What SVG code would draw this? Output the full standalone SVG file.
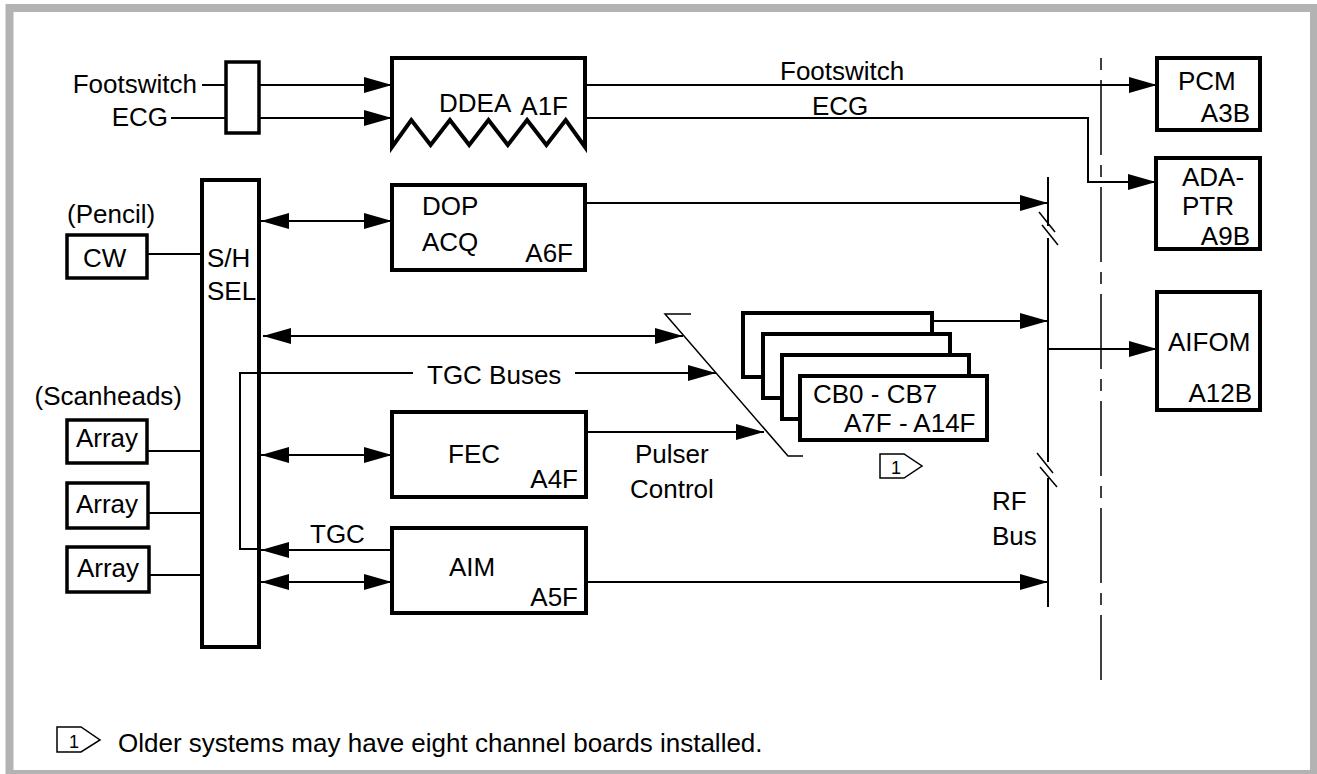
<svg xmlns="http://www.w3.org/2000/svg" width="1317" height="774" viewBox="0 0 1317 774">
<style>
text{font-family:"Liberation Sans",Arial,sans-serif;font-size:26px;fill:#000}
.box{fill:#fff;stroke:#000;stroke-width:4}
.sbox{fill:#fff;stroke:#000;stroke-width:3.5}
.ln{fill:none;stroke:#000;stroke-width:2}
.thin{fill:none;stroke:#000;stroke-width:1.5}
.end{text-anchor:end}
.mid{text-anchor:middle}
.note{font-size:18px}
</style>
<defs>
<marker id="ah" markerUnits="userSpaceOnUse" markerWidth="28" markerHeight="18" refX="28" refY="9" orient="auto-start-reverse">
<path d="M0,1 L28,9 L0,17 Z" fill="#000"/>
</marker>
</defs>
<rect x="9.5" y="8" width="1304.5" height="766" fill="#fff" stroke="#b3b3b3" stroke-width="8"/>

<g id="connectors">
<line class="ln" x1="202" y1="85" x2="226" y2="85"/>
<line class="ln" x1="171" y1="118" x2="226" y2="118"/>
<line class="ln" x1="259" y1="85" x2="392" y2="85" marker-end="url(#ah)"/>
<line class="ln" x1="259" y1="118" x2="392" y2="118" marker-end="url(#ah)"/>
<line class="ln" x1="585" y1="85" x2="1157" y2="85" marker-end="url(#ah)"/>
<polyline class="ln" points="585,118 1088,118 1088,182 1156,182" marker-end="url(#ah)"/>
<line class="ln" x1="261" y1="221" x2="392" y2="221" marker-start="url(#ah)" marker-end="url(#ah)"/>
<line class="ln" x1="585" y1="203" x2="1048" y2="203" marker-end="url(#ah)"/>
<line class="ln" x1="263" y1="336" x2="683" y2="336" marker-start="url(#ah)" marker-end="url(#ah)"/>
<polyline class="ln" points="259,549 240,549 240,373 413,373"/>
<line class="ln" x1="575" y1="373" x2="716" y2="373" marker-end="url(#ah)"/>
<line class="ln" x1="261" y1="455" x2="392" y2="455" marker-start="url(#ah)" marker-end="url(#ah)"/>
<line class="ln" x1="586" y1="432" x2="764" y2="432" marker-end="url(#ah)"/>
<line class="ln" x1="392" y1="550" x2="261" y2="550" marker-end="url(#ah)"/>
<line class="ln" x1="261" y1="582" x2="392" y2="582" marker-start="url(#ah)" marker-end="url(#ah)"/>
<line class="ln" x1="586" y1="582" x2="1048" y2="582" marker-end="url(#ah)"/>
<line class="ln" x1="932" y1="321" x2="1048" y2="321" marker-end="url(#ah)"/>
<line class="ln" x1="1048" y1="349" x2="1157" y2="349" marker-end="url(#ah)"/>
<line class="ln" x1="147" y1="254" x2="202" y2="254"/>
<line class="ln" x1="147" y1="451" x2="202" y2="451"/>
<line class="ln" x1="147" y1="513" x2="202" y2="513"/>
<line class="ln" x1="147" y1="575" x2="202" y2="575"/>
<line class="ln" x1="1048" y1="177" x2="1048" y2="226"/>
<line class="ln" x1="1048" y1="238" x2="1048" y2="462"/>
<line class="ln" x1="1048" y1="478" x2="1048" y2="607"/>
<line class="thin" x1="1039" y1="212" x2="1055" y2="232"/>
<line class="thin" x1="1042" y1="225" x2="1058" y2="245"/>
<line class="thin" x1="1037" y1="453" x2="1053" y2="473"/>
<line class="thin" x1="1040" y1="467" x2="1057" y2="487"/>
<polyline class="thin" points="691,314 665,314 788,456 803,456"/>
<line x1="1101" y1="58" x2="1101" y2="680" stroke="#000" stroke-width="1.5" stroke-dasharray="12 10 75 10"/>
</g>

<g id="fs-box"><rect class="sbox" x="226" y="62" width="33" height="71"/></g>
<g id="in-labels">
<text class="end" x="197" y="93">Footswitch</text>
<text class="end" x="168" y="126">ECG</text>
</g>
<g id="ddea">
<path class="box" d="M392,58 H585 V147 L565.7,120 L546.4,145 L527.1,120 L507.8,145 L488.5,120 L469.2,145 L449.9,120 L430.6,145 L411.3,120 L392,147 Z"/>
<text x="439" y="112">DDEA</text>
<text class="end" x="568" y="115">A1F</text>
</g>
<g id="out-labels">
<text x="780" y="80">Footswitch</text>
<text x="812" y="115">ECG</text>
</g>
<g id="pcm">
<rect class="box" x="1157" y="58" width="103" height="72"/>
<text x="1178" y="90">PCM</text>
<text class="end" x="1250" y="122">A3B</text>
</g>
<g id="adaptr">
<rect class="box" x="1156" y="158" width="104" height="91"/>
<text x="1182" y="186">ADA-</text>
<text x="1182" y="215">PTR</text>
<text class="end" x="1250" y="245">A9B</text>
</g>
<g id="aifom">
<rect class="box" x="1157" y="292" width="103" height="118"/>
<text x="1168" y="351">AIFOM</text>
<text class="end" x="1252" y="402">A12B</text>
</g>
<g id="shsel">
<rect x="202" y="180" width="57" height="467" fill="none" stroke="#000" stroke-width="4"/>
<text x="207" y="267">S/H</text>
<text x="207" y="300">SEL</text>
</g>
<g id="cw">
<text x="67" y="223">(Pencil)</text>
<rect class="sbox" x="67" y="235" width="80" height="43"/>
<text x="83" y="267">CW</text>
</g>
<g id="scanheads">
<text class="end" x="182" y="405">(Scanheads)</text>
</g>
<g id="array1">
<rect class="sbox" x="67" y="420" width="80" height="43"/>
<text class="mid" x="107" y="447">Array</text>
</g>
<g id="array2">
<rect class="sbox" x="67" y="483" width="81" height="45"/>
<text class="mid" x="107" y="513">Array</text>
</g>
<g id="array3">
<rect class="sbox" x="67" y="547" width="82" height="45"/>
<text class="mid" x="108" y="577">Array</text>
</g>
<g id="dop">
<rect class="box" x="392" y="185" width="193" height="85"/>
<text x="422" y="215">DOP</text>
<text x="422" y="251">ACQ</text>
<text class="end" x="573" y="262">A6F</text>
</g>
<g id="fec">
<rect class="box" x="392" y="412" width="194" height="85"/>
<text x="448" y="463">FEC</text>
<text class="end" x="578" y="488">A4F</text>
</g>
<g id="aim">
<rect class="box" x="392" y="528" width="194" height="85"/>
<text x="449" y="576">AIM</text>
<text class="end" x="578" y="606">A5F</text>
</g>
<g id="bus-labels">
<text x="427" y="384">TGC Buses</text>
<text x="310" y="543">TGC</text>
<text x="635" y="463">Pulser</text>
<text x="630" y="498">Control</text>
<text x="992" y="510">RF</text>
<text x="992" y="545">Bus</text>
</g>
<g id="cb">
<rect class="box" x="743" y="313" width="189" height="64"/>
<rect class="box" x="763" y="334" width="187" height="64"/>
<rect class="box" x="782" y="355" width="187" height="64"/>
<rect class="box" x="800" y="376" width="187" height="64"/>
<text x="813" y="403">CB0 - CB7</text>
<text x="844" y="432">A7F - A14F</text>
<rect x="800" y="376" width="187" height="64" fill="none" stroke="#000" stroke-width="4"/>
</g>
<g id="note1">
<polygon class="thin" points="880,454 904,454 922,466 904,478 880,478"/>
<text class="mid note" x="896" y="474">1</text>
</g>
<g id="footnote">
<polygon class="thin" points="57,727 81,727 100,740 81,752 57,752"/>
<text class="mid note" x="74" y="748">1</text>
<text x="118" y="752">Older systems may have eight channel boards installed.</text>
</g>
</svg>
